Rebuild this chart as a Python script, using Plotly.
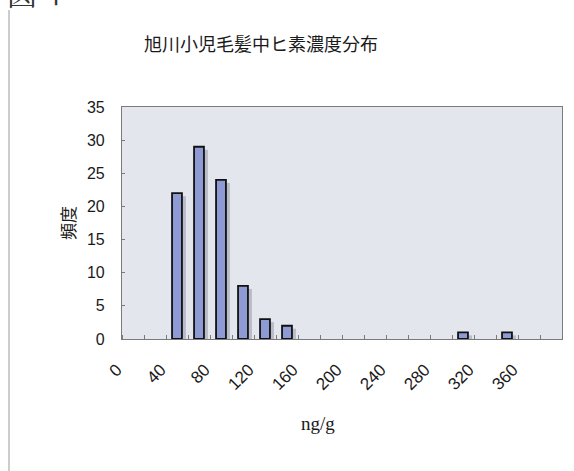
import plotly.graph_objects as go

# Hair arsenic concentration histogram (20 ng/g bins)
bin_start = list(range(0, 400, 20))
counts = [0, 0, 22, 29, 24, 8, 3, 2, 0, 0, 0, 0, 0, 0, 0, 1, 0, 1, 0, 0]
tick_labels = ["0", "40", "80", "120", "160", "200", "240", "280", "320", "360"]

title_text = "旭川小児毛髪中ヒ素濃度分布"
y_title = "頻度"
x_title = "ng/g"
fig_label = "図 4"

W, H = 574, 471
L, R, T, B = 122, 12, 107, 132
pw, ph = W - L - R, H - T - B

def px_x(x):
    return (x - L) / pw

def px_y(y):
    return 1 - (y - T) / ph

centers = [b + 10 for b in bin_start]
label_pos = centers[::2]
# empty bins get no bar at all
bar_vals = [v if v > 0 else None for v in counts]
shadow_vals = [v - 0.45 if v > 0 else None for v in counts]

fig = go.Figure()

# soft drop shadow behind each bar
fig.add_trace(go.Bar(
    x=[c + 3.6 for c in centers],
    y=shadow_vals,
    width=9,
    marker=dict(color="rgba(150,152,165,0.55)", line=dict(width=0)),
    hoverinfo="skip",
    showlegend=False,
))

fig.add_trace(go.Bar(
    x=centers,
    y=bar_vals,
    width=9,
    marker=dict(color="#8e9ad4", line=dict(color="#111111", width=1.8)),
    showlegend=False,
))

fig.update_layout(
    width=W, height=H,
    margin=dict(l=L, r=R, t=T, b=B),
    paper_bgcolor="white",
    plot_bgcolor="#e4e6ee",
    barmode="overlay",
    font=dict(family="Liberation Sans, Arial, sans-serif", color="#1a1a1a"),
    title=dict(
        text=title_text,
        x=261 / W, xref="container", xanchor="center",
        y=1 - 45 / H, yref="container", yanchor="middle",
        font=dict(family="Noto Sans CJK JP", size=18, color="#1a1a1a"),
    ),
)

fig.update_xaxes(
    range=[0, 400],
    tickmode="array",
    tickvals=label_pos,
    ticktext=tick_labels,
    tickangle=-45,
    ticks="",
    ticklabelshift=-16,
    ticklabelstandoff=13,
    tickfont=dict(size=17, family="Liberation Sans, Arial, sans-serif"),
    showgrid=False,
    zeroline=False,
    showline=True, linecolor="#7a7a7a", linewidth=1.2, mirror=True,
    minor=dict(tickmode="linear", tick0=0, dtick=20, ticks="inside",
               ticklen=4, tickcolor="#7a7a7a", showgrid=False),
)

fig.update_yaxes(
    range=[0, 35],
    dtick=5,
    ticks="inside", ticklen=3, tickcolor="#7a7a7a",
    tickfont=dict(size=16, family="Liberation Sans, Arial, sans-serif"),
    ticklabelstandoff=13,
    showgrid=False,
    zeroline=False,
    showline=True, linecolor="#7a7a7a", linewidth=1.2, mirror=True,
)

fig.add_annotation(
    text=y_title, textangle=-90,
    x=px_x(67), y=px_y(223), xref="paper", yref="paper",
    xanchor="center", yanchor="middle",
    showarrow=False,
    font=dict(family="Noto Sans CJK JP", size=17, color="#1a1a1a"),
)

fig.add_annotation(
    text=x_title,
    x=px_x(318), y=px_y(423), xref="paper", yref="paper",
    xanchor="center", yanchor="middle",
    showarrow=False,
    font=dict(family="Liberation Serif, Times New Roman, serif", size=19, color="#1a1a1a"),
)

# figure number, running off the top of the page
fig.add_annotation(
    text=fig_label,
    x=px_x(5), y=px_y(-8), xref="paper", yref="paper",
    xanchor="left", yanchor="middle",
    showarrow=False,
    font=dict(family="Noto Serif CJK JP, Noto Sans CJK JP", size=30, color="#333333"),
)

# vertical frame rule down the left side
fig.add_shape(
    type="line", xref="paper", yref="paper",
    x0=px_x(9), x1=px_x(9), y0=px_y(10), y1=px_y(H),
    line=dict(color="#9a9a9a", width=1),
)

fig.write_html("out.html")
